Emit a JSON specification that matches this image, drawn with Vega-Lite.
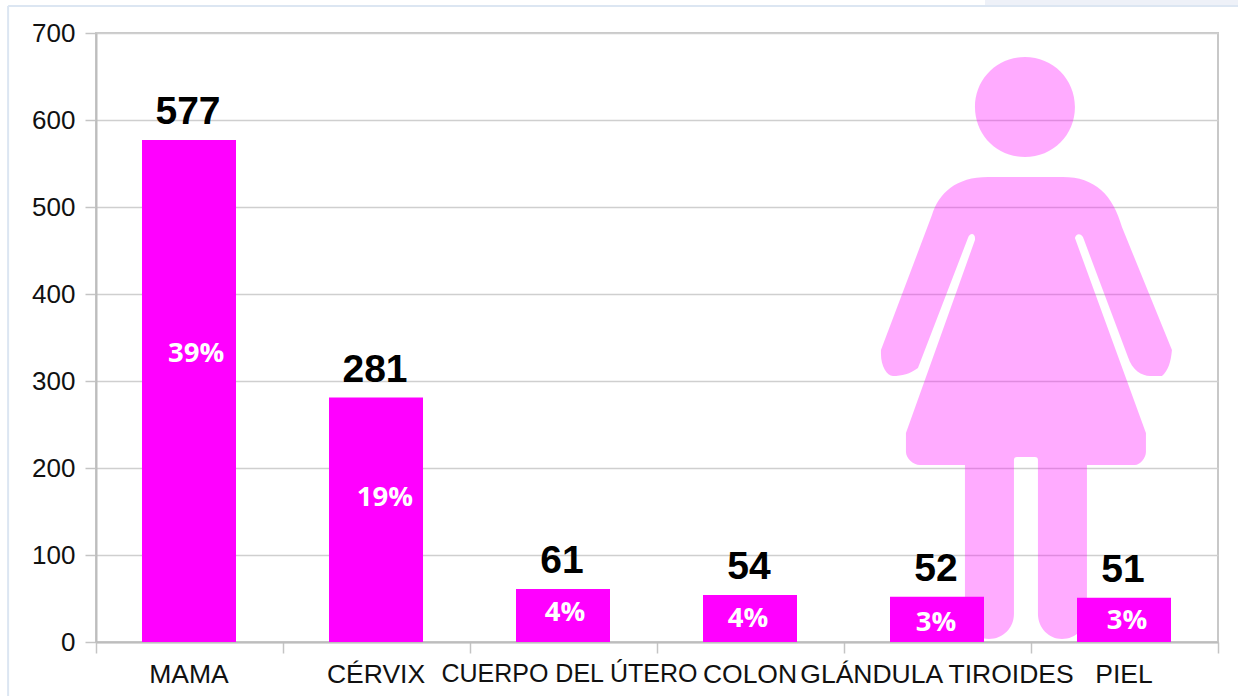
{
  "$schema": "https://vega.github.io/schema/vega-lite/v6.json",
  "width": 1122,
  "height": 609,
  "autosize": {"type": "none"},
  "padding": {"left": 96, "top": 33, "right": 20, "bottom": 54},
  "background": "#ffffff",
  "config": {"view": {"stroke": "#c8c8c8", "strokeWidth": 2}},
  "datasets": {
    "cancer": [
      {"sitio": "MAMA", "casos": 577, "pct": "39%", "pctX": 0.535, "pctY": 332.2},
      {"sitio": "CÉRVIX", "casos": 281, "pct": "19%", "pctX": 1.545, "pctY": 166.7},
      {"sitio": "CUERPO DEL ÚTERO", "casos": 61, "pct": "4%", "pctX": 2.508, "pctY": 34.5},
      {"sitio": "COLON", "casos": 54, "pct": "4%", "pctX": 3.487, "pctY": 27.6},
      {"sitio": "GLÁNDULA TIROIDES", "casos": 52, "pct": "3%", "pctX": 4.492, "pctY": 24.1},
      {"sitio": "PIEL", "casos": 51, "pct": "3%", "pctX": 5.513, "pctY": 25.3}
    ],
    "figura": [{"fx": 4.973, "fy": 337.9}],
    "marco": [
      {"x1": -0.47, "x2": -0.47, "y1": -62, "y2": 731},
      {"x1": -0.47, "x2": 6.107, "y1": 731, "y2": 731}
    ],
    "franja": [{"x1": 4.754, "x2": 6.107, "y1": 735}]
  },
  "layer": [
    {
      "data": {"name": "franja"},
      "mark": {"type": "rule", "color": "#eef1f8", "strokeWidth": 5, "clip": false},
      "encoding": {
        "x": {"field": "x1", "type": "quantitative", "scale": {"domain": [0, 6]}, "axis": null},
        "x2": {"field": "x2"},
        "y": {"field": "y1", "type": "quantitative", "scale": {"domain": [0, 700]}, "title": null}
      }
    },
    {
      "data": {"name": "marco"},
      "mark": {"type": "rule", "color": "#dce6f2", "strokeWidth": 2, "clip": false},
      "encoding": {
        "x": {"field": "x1", "type": "quantitative", "scale": {"domain": [0, 6]}, "axis": null},
        "x2": {"field": "x2"},
        "y": {"field": "y1", "type": "quantitative", "scale": {"domain": [0, 700]}, "title": null},
        "y2": {"field": "y2"}
      }
    },
    {
      "data": {"name": "figura"},
      "mark": {
        "type": "point",
        "filled": true,
        "color": "#ff00ff",
        "opacity": 0.33,
        "size": 4,
        "shape": "M-51 -241 C-51 -269 -29 -291 -1 -291 C27 -291 49 -269 49 -241 C49 -213 27 -191 -1 -191 C-29 -191 -51 -213 -51 -241 Z M-38 -171 L37 -171 C69 -171 87 -153 96 -121 L146 2 C145 14 142 23 136 28 L124 28 C116 28 106 22 102 9 L57 -111 C55 -115 50 -115 49 -110 L120 85 L120 104 C120 110 114 117 109 117 L61 117 L61 266 C61 280 50 291 36 291 C23 291 12 280 12 266 L12 112 C12 110 11 109 9 109 L-9 109 C-11 109 -12 110 -12 112 L-12 266 C-12 280 -23 291 -37 291 C-50 291 -61 280 -61 266 L-61 117 L-106 117 C-113 117 -120 110 -120 104 L-120 85 L-51 -108 C-50 -115 -56 -116 -58 -110 L-108 20 C-116 26 -124 28 -133 28 C-139 28 -145 18 -145 6 L-145 2 L-94 -133 C-87 -155 -70 -171 -38 -171 Z"
      },
      "encoding": {
        "x": {"field": "fx", "type": "quantitative", "scale": {"domain": [0, 6]}, "axis": null},
        "y": {"field": "fy", "type": "quantitative", "scale": {"domain": [0, 700]}, "title": null}
      }
    },
    {
      "data": {"name": "cancer"},
      "mark": {"type": "bar", "color": "#ff00ff", "width": 94, "xOffset": -0.5},
      "encoding": {
        "x": {
          "field": "sitio",
          "type": "nominal",
          "sort": null,
          "title": null,
          "scale": {"paddingInner": 0, "paddingOuter": 0},
          "axis": {
            "labelAngle": 0,
            "labelFont": "Liberation Sans",
            "labelFontSize": {"condition": {"test": "datum.label == 'CUERPO DEL ÚTERO'", "value": 25}, "value": 26.5},
            "labelOffset": {"condition": {"test": "datum.label == 'CUERPO DEL ÚTERO'", "value": 5.5}, "value": -1},
            "labelColor": "#111111",
            "labelOverlap": false,
            "labelLimit": 500,
            "labelBound": false,
            "labelPadding": 8,
            "tickBand": "extent",
            "tickSize": 11,
            "tickColor": "#c4c4c4",
            "tickWidth": 1.5,
            "domainColor": "#bdbdbd",
            "domainWidth": 2,
            "grid": false
          }
        },
        "y": {
          "field": "casos",
          "type": "quantitative",
          "title": null,
          "scale": {"domain": [0, 700]},
          "axis": {
            "values": [0, 100, 200, 300, 400, 500, 600, 700],
            "labelFont": "Liberation Sans",
            "labelFontSize": 26,
            "labelColor": "#111111",
            "labelPadding": 10,
            "tickSize": 11,
            "tickColor": "#c4c4c4",
            "tickWidth": 1.5,
            "domainColor": "#bdbdbd",
            "domainWidth": 2,
            "grid": true,
            "gridColor": "#cfcfcf",
            "gridWidth": 1.5
          }
        }
      }
    },
    {
      "data": {"name": "cancer"},
      "mark": {"type": "text", "font": "Liberation Sans", "fontWeight": "bold", "fontSize": 39, "color": "#000000", "baseline": "alphabetic", "dy": -16, "dx": -1.5},
      "encoding": {
        "x": {"field": "sitio", "type": "nominal", "sort": null, "scale": {"paddingInner": 0, "paddingOuter": 0}, "axis": null},
        "y": {"field": "casos", "type": "quantitative", "scale": {"domain": [0, 700]}, "title": null},
        "text": {"field": "casos", "type": "quantitative"}
      }
    },
    {
      "data": {"name": "cancer"},
      "mark": {"type": "text", "font": "Open Sans", "fontWeight": "bold", "fontSize": 27.5, "color": "#ffffff", "baseline": "middle", "dy": 1.5},
      "encoding": {
        "x": {"field": "pctX", "type": "quantitative", "scale": {"domain": [0, 6]}, "axis": null},
        "y": {"field": "pctY", "type": "quantitative", "scale": {"domain": [0, 700]}, "title": null},
        "text": {"field": "pct", "type": "nominal"}
      }
    }
  ],
  "resolve": {"scale": {"x": "independent"}}
}
